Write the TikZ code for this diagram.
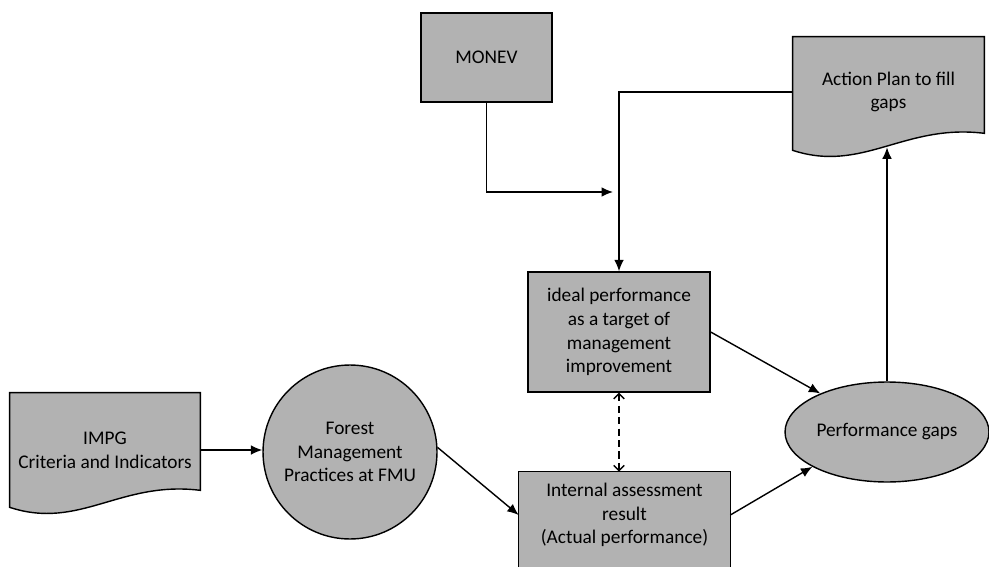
\documentclass[tikz,border=0pt]{standalone}
\usepackage{fontspec}
\setmainfont{Carlito}
\usetikzlibrary{calc,shapes.geometric,arrows.meta,backgrounds}

\begin{document}
\begin{tikzpicture}[x=0.02cm,y=-0.02cm,
  greyfill/.style={fill=black!30,draw=black,line width=0.8pt},
  flowbox/.style={greyfill,rectangle,inner sep=0pt,align=center,font=\fontsize{11}{13.5}\selectfont},
  docbox/.style={rectangle,inner sep=0pt,align=center,font=\fontsize{11}{13.5}\selectfont},
  conn/.style={line width=0.8pt,-{Latex[length=6.5pt,width=5.5pt]}}]
\useasboundingbox (0,0) rectangle (989,567);
\clip (0,0) rectangle (989,567);

% draw nodes
\node[docbox,minimum width=3.8cm,minimum height=2.28cm] (impg) at (105,450) {IMPG\\Criteria and Indicators};
\node[flowbox,circle,minimum size=3.48cm] (fmu) at (350,452) {Forest\\Management\\Practices at FMU};
\node[flowbox,minimum width=3.64cm,minimum height=2.4cm] (ideal) at (619,332) {ideal performance\\as a target of\\management\\improvement};
\node[docbox,minimum width=4.22cm,minimum height=1.72cm] (internal) at (624.5,515) {Internal assessment\\result\\(Actual performance)};
\node[flowbox,minimum width=2.62cm,minimum height=1.78cm] (monev) at (486.5,57.5) {MONEV};
\node[docbox,minimum width=3.82cm,minimum height=2.2cm] (actplan) at (888.5,92) {Action Plan to fill\\gaps};
\node[flowbox,ellipse,minimum width=4.08cm,minimum height=2cm] (perf) at (887,432) {Performance gaps};

% draw document outlines
\begin{scope}[on background layer]
\draw[greyfill] (impg.north west) -- (impg.north east) -- ($(impg.south east)+(0,-17)$)
  .. controls ($(impg.south east)+(-80,-27)$) and ($(impg.south west)+(70,23)$) .. (impg.south west) -- cycle;
\draw[greyfill] (actplan.north west) -- (actplan.north east) -- ($(actplan.south east)+(0,-14)$)
  .. controls ($(actplan.south east)+(-80,-24)$) and ($(actplan.south west)+(70,26)$) .. ($(actplan.south west)+(0,3)$) -- cycle;
\draw[greyfill] (internal.north west) rectangle ($(internal.south east)+(0,30)$);
\end{scope}

% draw connectors
\draw[conn] (impg.east) -- (impg.east -| fmu.west);
\draw[conn] (fmu.3) -- (internal.west);
\coordinate (mjoin) at (613,192);
\draw[conn] (monev.south) |- (mjoin);
\draw[conn] (actplan.west) -| (ideal.north);
\draw[line width=0.8pt,dash pattern=on 4pt off 2.5pt,{Straight Barb[length=3pt]}-{Straight Barb[length=3pt]}] (ideal.south) -- (ideal.south |- internal.north);
\draw[conn] (ideal.east) -- (perf.150);
\draw[conn] (internal.east) -- (perf.205);
\draw[conn] (perf.north) -- (perf.north |- actplan.south);

\end{tikzpicture}
\end{document}
